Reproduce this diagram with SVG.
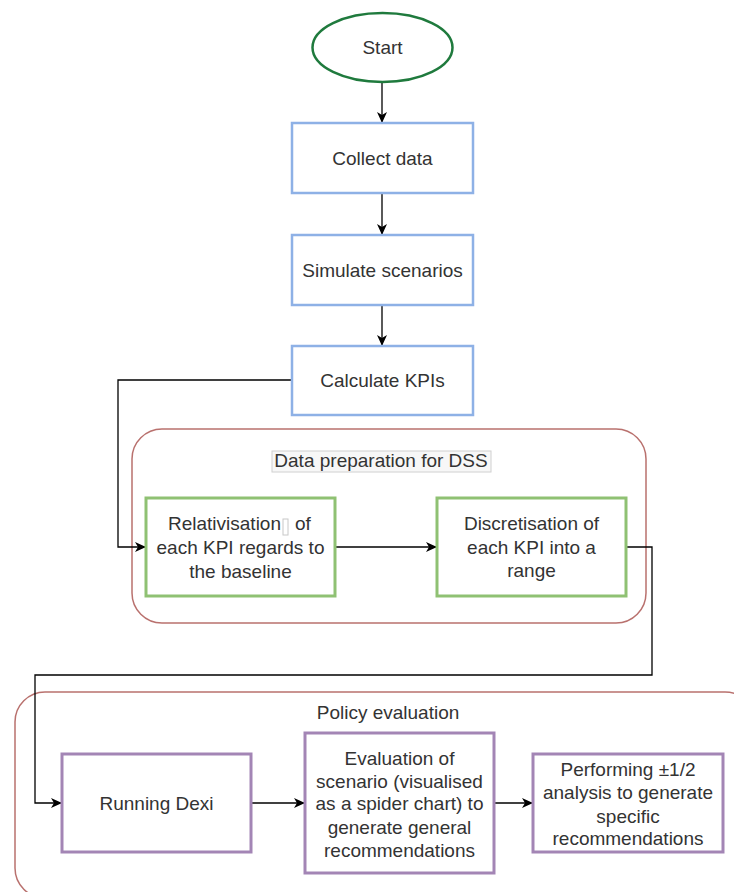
<svg xmlns="http://www.w3.org/2000/svg" width="734" height="892" viewBox="0 0 734 892">
  <style>
    text { font-family: "Liberation Sans", Arial, sans-serif; font-size: 19px; fill: #333333; text-anchor: middle; }
    .blue { fill: #ffffff; stroke: #8eb1e6; stroke-width: 2.5; }
    .green { fill: #ffffff; stroke: #8fc173; stroke-width: 3; }
    .purple { fill: #ffffff; stroke: #a385b5; stroke-width: 3; }
    .group { fill: none; stroke: #b9716e; stroke-width: 1.5; }
    .edge { fill: none; stroke: #000000; stroke-width: 1.3; }
  </style>
  <defs>
    <marker id="arrow" viewBox="0 0 11 10" refX="10" refY="5" markerWidth="11" markerHeight="10" markerUnits="userSpaceOnUse" orient="auto">
      <path d="M0,0 L11,5 L0,10 L3,5 Z" fill="#000000"/>
    </marker>
  </defs>
  <rect width="734" height="892" fill="#ffffff"/>

  <!-- containers -->
  <g id="data-preparation">
    <rect class="group" x="132" y="429" width="514" height="194" rx="30" ry="30"/>
    <rect x="272" y="451" width="219" height="21" fill="#f7f7f7" stroke="#d0d0d0" stroke-width="1"/>
    <text x="381" y="467">Data preparation for DSS</text>
  </g>
  <g id="policy-evaluation">
    <rect class="group" x="15" y="692" width="740" height="206" rx="30" ry="30"/>
    <text x="388" y="719">Policy evaluation</text>
  </g>

  <!-- connectors -->
  <g id="connectors">
    <path class="edge" d="M382,82 L382,122" marker-end="url(#arrow)"/>
    <path class="edge" d="M382,193 L382,234" marker-end="url(#arrow)"/>
    <path class="edge" d="M382,305 L382,345" marker-end="url(#arrow)"/>
    <path class="edge" d="M291,380 L118,380 L118,547 L145,547" marker-end="url(#arrow)"/>
    <path class="edge" d="M335,547 L436,547" marker-end="url(#arrow)"/>
    <path class="edge" d="M626,547 L652,547 L652,675 L35,675 L35,803 L61,803" marker-end="url(#arrow)"/>
    <path class="edge" d="M251,803 L304,803" marker-end="url(#arrow)"/>
    <path class="edge" d="M494,803 L532,803" marker-end="url(#arrow)"/>
  </g>

  <!-- nodes -->
  <g id="start">
    <ellipse cx="382.5" cy="47.5" rx="70" ry="34.5" fill="#ffffff" stroke="#1f7a3d" stroke-width="2.5"/>
    <text x="382.5" y="54">Start</text>
  </g>
  <g id="collect-data">
    <rect class="blue" x="292" y="123" width="181" height="70"/>
    <text x="382.5" y="165">Collect data</text>
  </g>
  <g id="simulate-scenarios">
    <rect class="blue" x="292" y="235" width="181" height="70"/>
    <text x="382.5" y="277">Simulate scenarios</text>
  </g>
  <g id="calculate-kpis">
    <rect class="blue" x="292" y="346" width="181" height="69"/>
    <text x="382.5" y="387">Calculate KPIs</text>
  </g>
  <g id="relativisation">
    <rect class="green" x="146" y="498" width="189" height="98"/>
    <text x="281" y="530" style="text-anchor:end">Relativisation</text>
    <rect x="283" y="519" width="5" height="16" fill="#ffffff" stroke="#c8c8c8" stroke-width="1"/>
    <text x="295" y="530" style="text-anchor:start">of</text>
    <text x="240.5" y="554">each KPI regards to</text>
    <text x="240.5" y="578">the baseline</text>
  </g>
  <g id="discretisation">
    <rect class="green" x="437" y="498" width="189" height="98"/>
    <text x="531.5" y="530">Discretisation of</text>
    <text x="531.5" y="554">each KPI into a</text>
    <text x="531.5" y="577">range</text>
  </g>
  <g id="running-dexi">
    <rect class="purple" x="62" y="754" width="189" height="98"/>
    <text x="156.5" y="810">Running Dexi</text>
  </g>
  <g id="evaluation">
    <rect class="purple" x="305" y="733" width="189" height="140"/>
    <text x="399.5" y="765">Evaluation of</text>
    <text x="399.5" y="788">scenario (visualised</text>
    <text x="399.5" y="810">as a spider chart) to</text>
    <text x="399.5" y="834">generate general</text>
    <text x="399.5" y="857">recommendations</text>
  </g>
  <g id="sensitivity-analysis">
    <rect class="purple" x="533" y="754" width="190" height="98"/>
    <text x="628" y="776">Performing ±1/2</text>
    <text x="628" y="799">analysis to generate</text>
    <text x="628" y="823">specific</text>
    <text x="628" y="845">recommendations</text>
  </g>
</svg>
